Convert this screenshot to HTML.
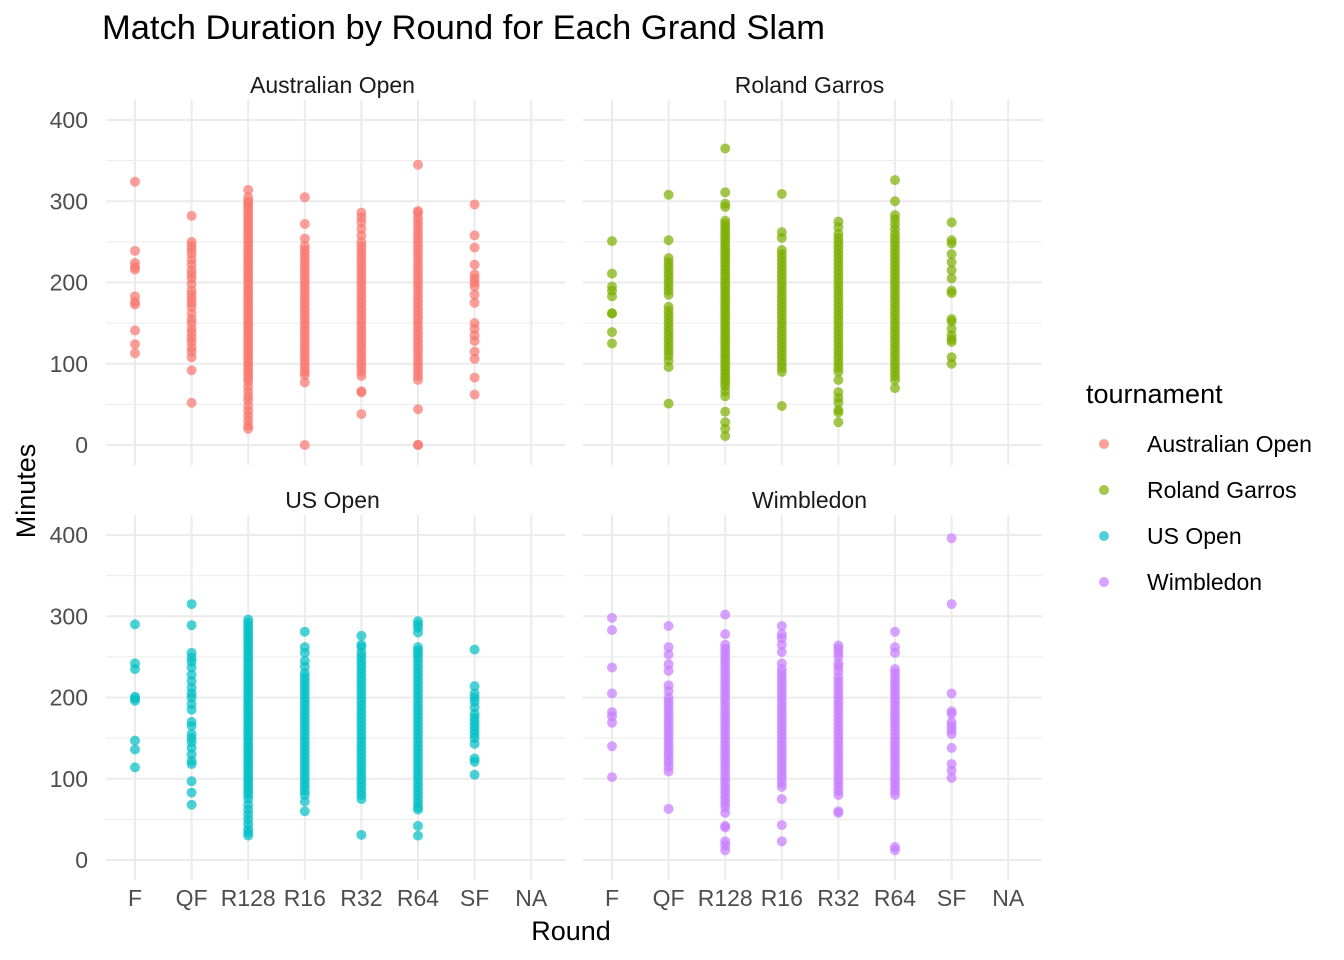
<!DOCTYPE html>
<html><head><meta charset="utf-8"><style>
body{margin:0;background:#fff;}
svg{display:block;font-family:"Liberation Sans",Arial,sans-serif;}
</style></head><body>
<svg id="chart" width="1344" height="960" viewBox="0 0 1344 960" xmlns="http://www.w3.org/2000/svg">
<text x="102" y="39" font-size="34.5" fill="#000">Match Duration by Round for Each Grand Slam</text>
<text x="571" y="940" font-size="27" fill="#000" text-anchor="middle">Round</text>
<text x="0" y="0" font-size="27" fill="#000" text-anchor="middle" transform="translate(35,491) rotate(-90)">Minutes</text>
<g id="panels"></g>
<g>
<text x="1086" y="403" font-size="27" fill="#000">tournament</text>
<g id="legend"></g>
</g>
</svg>
<script>
const rounds = ["F","QF","R128","R16","R32","R64","SF","NA"];
const tournaments = ["Australian Open","Roland Garros","US Open","Wimbledon"];
const yTicks = [0,100,200,300,400];
const colors = ["#F8766D","#7CAE00","#00BFC4","#C77CFF"];

const aoF=[324,239,224,219,216,183,176,173,141,124,113];
const aoQF=[282,250,245,240,235,228,222,215,210,205,198,190,185,180,175,170,162,155,150,143,138,132,127,120,115,108,92,52];
const aoR128=[314,305,300,297,294,290,286,282,278,274,270,266,262,258,254,250,246,242,238,234,230,226,222,218,214,210,206,202,198,194,190,186,182,178,174,170,166,162,158,154,150,146,142,138,134,130,126,122,118,114,110,106,102,98,94,90,86,82,78,72,66,60,55,48,42,36,30,24,20];
const aoR16=[305,272,254,245,240,235,230,225,220,215,210,205,200,195,190,185,180,175,170,165,160,155,150,145,140,135,130,125,120,115,110,105,100,95,90,86,77,0];
const aoR32=[286,280,274,266,258,250,245,240,235,230,225,220,215,210,205,200,195,190,185,180,175,170,165,160,155,150,145,140,135,130,125,120,115,110,105,100,95,90,85,66,65,38];
const aoR64=[345,288,286,280,275,270,265,260,255,250,245,240,235,230,225,220,215,210,205,200,195,190,185,180,175,170,165,160,155,150,145,140,135,130,125,120,115,110,105,100,95,90,85,80,44,0,0];
const aoSF=[296,258,243,222,210,205,200,195,185,175,150,143,135,128,115,106,83,62];

const rgF=[251,211,195,190,183,162,162,139,125];
const rgQF=[308,252,230,225,220,215,210,205,200,195,190,185,170,165,160,155,150,145,140,135,130,125,120,115,110,104,96,51];
const rgR128=[365,311,297,293,276,272,268,264,260,256,252,248,244,240,236,232,228,224,220,216,212,208,204,200,196,192,188,184,180,176,172,168,164,160,156,152,148,144,140,136,132,128,124,120,116,112,108,104,100,96,92,88,84,80,76,72,66,60,41,28,20,11];
const rgR16=[309,262,255,240,235,230,225,220,215,210,205,200,195,190,185,180,175,170,165,160,155,150,145,140,135,130,125,120,115,110,105,100,95,90,48];
const rgR32=[275,268,260,255,250,245,240,235,230,225,220,215,210,205,200,195,190,185,180,175,170,165,160,155,150,145,140,135,130,125,120,115,110,105,100,95,90,80,65,58,52,43,40,28];
const rgR64=[326,300,283,278,272,266,260,255,250,245,240,235,230,225,220,215,210,205,200,195,190,185,180,175,170,165,160,155,150,145,140,135,130,125,120,115,110,105,100,95,90,85,80,70];
const rgSF=[274,252,248,235,225,215,205,190,187,155,152,143,135,130,127,108,100];

const usF=[290,242,235,201,199,196,147,136,114];
const usQF=[315,289,255,249,244,237,228,220,212,205,200,192,185,170,165,155,150,145,138,130,122,118,97,83,68];
const usR128=[296,292,288,284,280,276,272,268,264,260,256,252,248,244,240,236,232,228,224,220,216,212,208,204,200,196,192,188,184,180,176,172,168,164,160,156,152,148,144,140,136,132,128,124,120,116,112,108,104,100,96,92,88,84,80,75,68,62,56,50,44,38,34,30];
const usR16=[281,262,255,245,238,230,225,220,215,210,205,200,195,190,185,180,175,170,165,160,155,150,145,140,135,130,125,120,115,110,105,100,95,90,85,80,72,60];
const usR32=[276,265,262,255,250,245,240,235,230,225,220,215,210,205,200,195,190,185,180,175,170,165,160,155,150,145,140,135,130,125,120,115,110,105,100,95,90,85,80,75,31];
const usR64=[294,290,286,280,262,258,254,250,245,240,235,230,225,220,215,210,205,200,195,190,185,180,175,170,165,160,155,150,145,140,135,130,125,120,115,110,105,100,95,90,85,80,75,70,65,62,42,30];
const usSF=[259,214,205,200,195,188,180,175,170,165,160,155,150,143,125,121,105];

const wiF=[298,283,237,205,182,177,169,140,102];
const wiQF=[288,262,253,241,233,215,208,200,195,190,185,180,175,170,165,160,155,150,145,140,135,130,125,120,115,109,63];
const wiR128=[302,278,265,260,255,250,245,240,235,230,225,220,215,210,205,200,195,190,185,180,175,170,165,160,155,150,145,140,135,130,125,120,115,110,105,100,95,90,85,80,75,70,65,58,42,40,23,18,12];
const wiR16=[288,278,273,265,256,242,235,230,225,220,215,210,205,200,195,190,185,180,175,170,165,160,155,150,145,140,135,130,125,120,115,110,105,100,95,90,75,43,23];
const wiR32=[264,260,255,250,242,238,232,225,220,215,210,205,200,195,190,185,180,175,170,165,160,155,150,145,140,135,130,125,120,115,110,105,100,95,90,85,80,60,58];
const wiR64=[281,262,255,235,230,225,220,215,210,205,200,195,190,185,180,175,170,165,160,155,150,145,140,135,130,125,120,115,110,105,100,95,90,85,80,16,12];
const wiSF=[396,315,205,183,180,170,165,160,155,138,118,110,101];

const series=[
 [aoF,aoQF,aoR128,aoR16,aoR32,aoR64,aoSF],
 [rgF,rgQF,rgR128,rgR16,rgR32,rgR64,rgSF],
 [usF,usQF,usR128,usR16,usR32,usR64,usSF],
 [wiF,wiQF,wiR128,wiR16,wiR32,wiR64,wiSF]
];

const NS="http://www.w3.org/2000/svg";
function mk(tag,attrs,parent){const e=document.createElementNS(NS,tag);for(const k in attrs)e.setAttribute(k,attrs[k]);parent.appendChild(e);return e;}
const panelsG=document.getElementById('panels');
const layout=[{x0:106,y0:0},{x0:583,y0:0},{x0:106,y0:415},{x0:583,y0:415}];
const pw=459;
const step=56.6;
for(let p=0;p<4;p++){
  const L=layout[p];
  const xScale=i=>L.x0+29+i*step;
  const yScale=v=>L.y0+445-v*0.8125;
  const g=mk('g',{},panelsG);
  
  
  for(let v=50;v<=350;v+=100){mk('line',{x1:L.x0,x2:L.x0+pw,y1:yScale(v),y2:yScale(v),stroke:'#ebebeb','stroke-width':1},g);}
  yTicks.forEach(v=>{
    const ln=mk('line',{x1:L.x0,x2:L.x0+pw,y1:yScale(v),y2:yScale(v),stroke:'#ebebeb','stroke-width':2},g);
    
    
  });
  rounds.forEach((r,i)=>{mk('line',{x1:xScale(i),x2:xScale(i),y1:L.y0+100,y2:L.y0+465,stroke:'#ebebeb','stroke-width':2},g);});
  const st=mk('text',{x:L.x0+pw/2-3,y:L.y0+93,'font-size':23,'text-anchor':'middle',fill:'#1a1a1a'},g);
  st.textContent=tournaments[p];
  
  
  if(p%2===0){
    yTicks.forEach(v=>{
      const t=mk('text',{x:88,y:yScale(v)+8,'font-size':23,'text-anchor':'end',fill:'#4d4d4d'},g);
      t.textContent=v;
      
      
    });
  }
  if(p>=2){
    rounds.forEach((r,i)=>{
      const t=mk('text',{x:xScale(i),y:906,'font-size':23,'text-anchor':'middle',fill:'#4d4d4d'},g);
      t.textContent=r;
      
      
    });
  }
  series[p].forEach((vals,i)=>{
    vals.forEach(v=>{
      const c=mk('circle',{cx:xScale(i),cy:yScale(v),r:5,fill:colors[p],'fill-opacity':0.7},g);
      
      
    });
  });
}
const lg=document.getElementById('legend');
tournaments.forEach((t,i)=>{
  const y=444+i*46;
  const c=mk('circle',{cx:1104,cy:y,r:5,fill:colors[i],'fill-opacity':0.7},lg);
  
  
  const tx=mk('text',{x:1147,y:y+8,'font-size':23,fill:'#000'},lg);
  tx.textContent=t;
  
  
});
</script>
</body></html>
